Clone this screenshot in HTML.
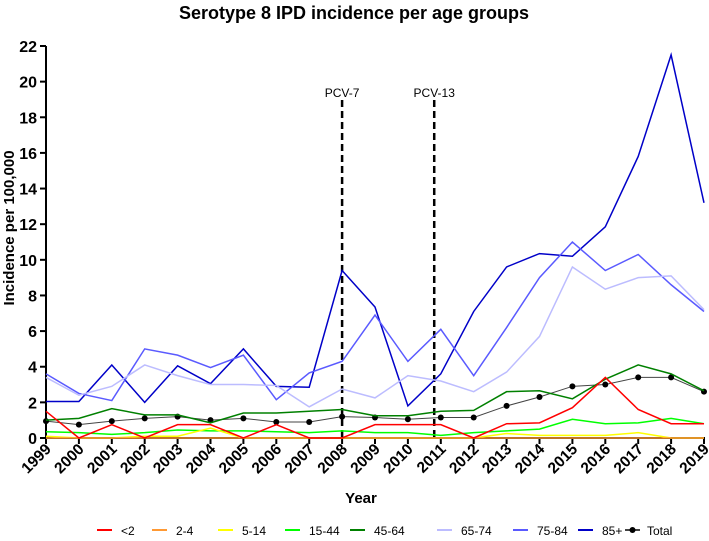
<!DOCTYPE html>
<html><head><meta charset="utf-8"><style>
body{margin:0;background:#fff;font-family:"Liberation Sans",sans-serif}
svg text{font-family:"Liberation Sans",sans-serif}
</style></head><body>
<svg id="chart" width="709" height="536" viewBox="0 0 709 536" xmlns="http://www.w3.org/2000/svg">
<text x="354" y="19" text-anchor="middle" font-size="18" font-weight="bold">Serotype 8 IPD incidence per age groups</text>
<text transform="translate(14,228) rotate(-90)" text-anchor="middle" font-size="15" font-weight="bold">Incidence per 100,000</text>
<text x="361" y="503" text-anchor="middle" font-size="15" font-weight="bold">Year</text>
<g id="axes"></g><g id="vlines"></g><g id="series"></g><g id="legend"></g>
</svg>
<script>
const years=[1999,2000,2001,2002,2003,2004,2005,2006,2007,2008,2009,2010,2011,2012,2013,2014,2015,2016,2017,2018,2019];
const yTicks=[0,2,4,6,8,10,12,14,16,18,20,22];
const lt2=[1.5,0,0.75,0,0.75,0.75,0,0.75,0,0,0.75,0.75,0.75,0,0.8,0.85,1.7,3.4,1.6,0.8,0.8];
const a2_4=[0,0,0,0,0,0,0,0,0,0,0,0,0,0,0,0,0,0,0,0,0];
const a5_14=[0.1,0,0,0.1,0.1,0.55,0,0,0,0,0,0,0,0,0.25,0.15,0.15,0.15,0.3,0,0];
const a15_44=[0.35,0.3,0.2,0.3,0.45,0.4,0.4,0.35,0.3,0.4,0.3,0.3,0.15,0.3,0.4,0.5,1.05,0.8,0.85,1.1,0.8];
const a45_64=[1.0,1.1,1.65,1.3,1.3,0.85,1.4,1.4,1.5,1.6,1.25,1.25,1.5,1.55,2.6,2.65,2.2,3.3,4.1,3.6,2.65];
const a65_74=[3.4,2.4,2.9,4.1,3.5,3.0,3.0,2.95,1.75,2.75,2.25,3.5,3.2,2.6,3.7,5.7,9.6,8.35,9.0,9.1,7.2];
const a75_84=[3.6,2.5,2.1,5.0,4.65,3.95,4.65,2.15,3.65,4.3,6.9,4.3,6.1,3.5,6.2,9.0,11.0,9.4,10.3,8.6,7.1];
const a85p=[2.05,2.05,4.1,2.0,4.05,3.05,5.0,2.9,2.85,9.4,7.35,1.8,3.6,7.1,9.6,10.35,10.2,11.85,15.8,21.5,13.2];
const total=[0.95,0.75,0.95,1.1,1.2,1.0,1.1,0.9,0.9,1.2,1.15,1.05,1.15,1.15,1.8,2.3,2.9,3.0,3.4,3.4,2.6];
const vaccineYears=[2008,2010.8];
const vaccineLabels=["PCV-7","PCV-13"];
const NS="http://www.w3.org/2000/svg";
const X=y=>46+(y-1999)*(658/20);
const Y=v=>438-v*(392/22);
function mk(t,a,p){const e=document.createElementNS(NS,t);for(const k in a)e.setAttribute(k,a[k]);p.appendChild(e);return e;}
const ax=document.getElementById('axes');
let l=mk('line',{x1:46,y1:Y(22),x2:46,y2:438,stroke:'#000','stroke-width':2},ax);


l=mk('line',{x1:46,y1:438,x2:705,y2:438,stroke:'#000','stroke-width':2},ax);


yTicks.forEach(v=>{mk('line',{x1:40,y1:Y(v),x2:46,y2:Y(v),stroke:'#000','stroke-width':2},ax);
 const t=mk('text',{x:37,y:Y(v)+6,'text-anchor':'end','font-size':16,'font-weight':'bold'},ax);t.textContent=v;
 
 });
years.forEach(y=>{mk('line',{x1:X(y),y1:438,x2:X(y),y2:444,stroke:'#000','stroke-width':2},ax);
 const t=mk('text',{transform:`translate(${X(y)+6},${450}) rotate(-45)`,'text-anchor':'end','font-size':15.5,'font-weight':'bold'},ax);t.textContent=y;
 
 });
const vl=document.getElementById('vlines');
vaccineYears.forEach((y,i)=>{const ln=mk('line',{x1:X(y),y1:100,x2:X(y),y2:438,stroke:'#000','stroke-width':2.5,'stroke-dasharray':'7,4'},vl);
 
 
 const t=mk('text',{x:X(y),y:97,'text-anchor':'middle','font-size':12},vl);t.textContent=vaccineLabels[i];
 
 });
const series=[["<2",lt2,"#ff0000"],["2-4",a2_4,"#ff9933"],["5-14",a5_14,"#ffff00"],["15-44",a15_44,"#00ff00"],["45-64",a45_64,"#008000"],["65-74",a65_74,"#bcbcff"],["75-84",a75_84,"#5a5aff"],["85+",a85p,"#0000c8"],["Total",total,"#444444"]];
const sg=document.getElementById('series');
series.slice().reverse().forEach(([n,d,c])=>{
 const p=mk('polyline',{points:d.map((v,i)=>X(years[i])+','+Y(v)).join(' '),fill:'none',stroke:c,'stroke-width':n==='Total'?1:1.5},sg);
 
 
 if(n==='Total')d.forEach((v,i)=>{const ci=mk('circle',{cx:X(years[i]),cy:Y(v),r:3,fill:'#000'},sg);
  
  });
});
const lg=document.getElementById('legend');
const lx=[97,152,218,285,350,437,513,578,625];
series.forEach(([n,d,c],i)=>{
 const g=mk('g',{},lg);
 
 
 mk('line',{x1:lx[i],y1:530,x2:lx[i]+15,y2:530,stroke:c,'stroke-width':2},g);
 if(n==='Total')mk('circle',{cx:lx[i]+7.5,cy:530,r:3,fill:'#000'},g);
 const t=mk('text',{x:lx[i]+(n==='Total'?22:24),y:535,'font-size':12},g);t.textContent=n;
});
</script>
</body></html>
